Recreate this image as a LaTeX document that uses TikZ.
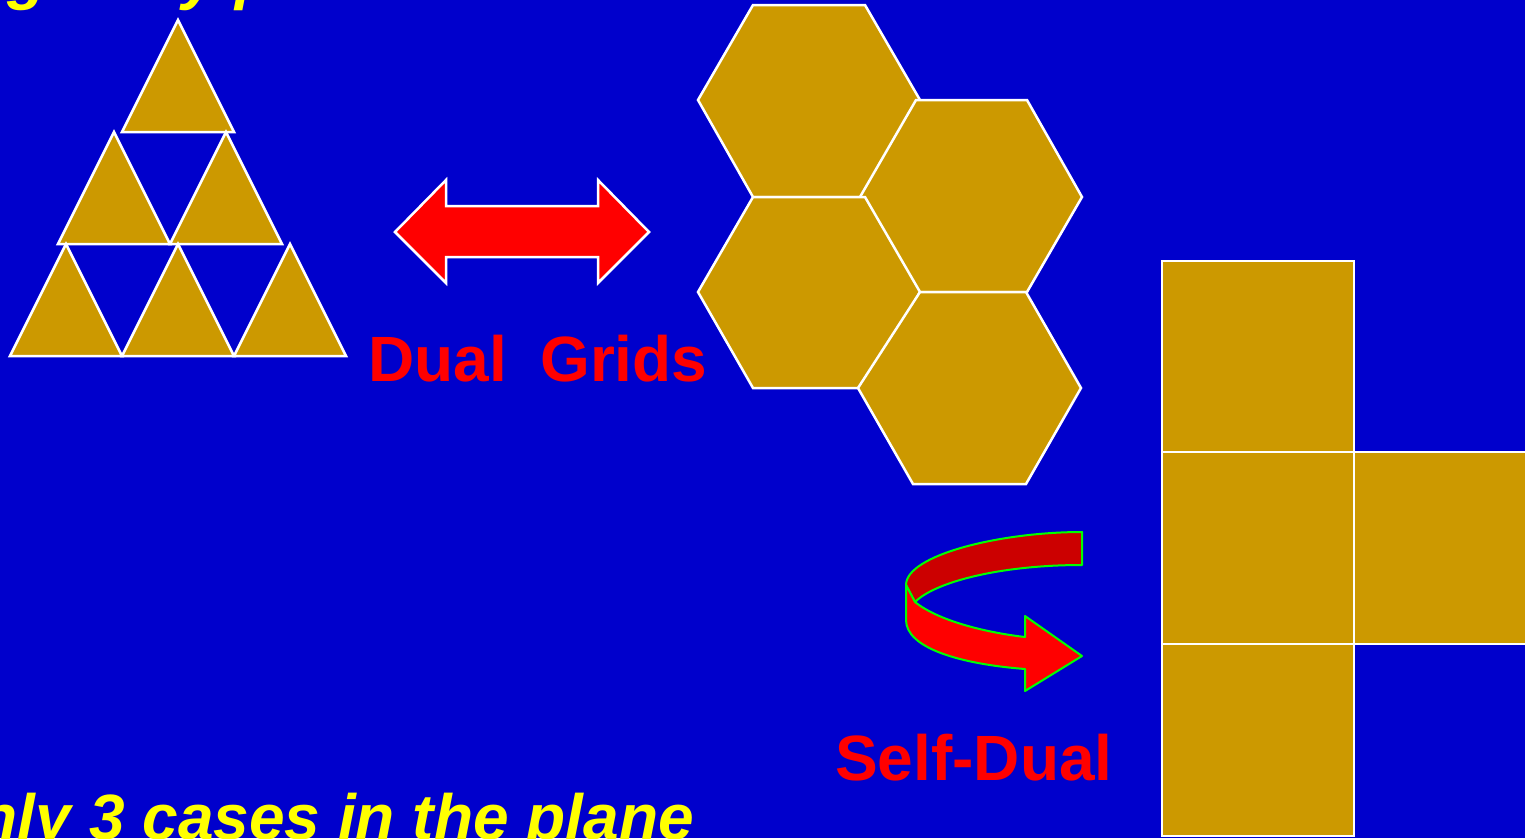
\documentclass[tikz,border=0pt]{standalone}
\usepackage{fontspec}
\setmainfont{Liberation Sans}
\definecolor{bgblue}{HTML}{0000CC}
\definecolor{tan}{HTML}{CC9900}
\definecolor{myred}{HTML}{FF0000}
\definecolor{darkred}{HTML}{CC0000}
\definecolor{myyellow}{HTML}{FFFF00}
\definecolor{mygreen}{HTML}{00FF00}
\tikzset{
  tile/.style={fill=tan, draw=white, line width=2.5pt, line join=miter},
  bigarrow/.style={fill=myred, draw=white, line width=2.5pt, line join=miter},
  ribbon/.style={draw=mygreen, line width=2pt, line join=round},
  redlabel/.style={text=myred, font=\fontsize{64}{70}\selectfont\bfseries, inner sep=0pt},
  yellowlabel/.style={text=myyellow, font=\fontsize{64}{70}\selectfont\bfseries\itshape, inner sep=0pt}
}
\begin{document}
\begin{tikzpicture}[x=1pt,y=-1pt]
\useasboundingbox (0,0) rectangle (1525,838);
\fill[bgblue] (0,0) rectangle (1525,838);
\clip (0,0) rectangle (1525,838);

% titles (cut off at the edges, as in the reference)
\node[yellowlabel, anchor=base west] (title) at (-74,-3) {Regularly placed tiles};
\node[yellowlabel, anchor=base east] (bottom) at (694,839) {Only 3 cases in the plane};

% triangles
\draw[tile] (122,132) -- (178,20) -- (234,132) -- cycle;
\draw[tile] (58,244) -- (114,132) -- (170,244) -- cycle;
\draw[tile] (170,244) -- (226,132) -- (282,244) -- cycle;
\draw[tile] (10,356) -- (66,244) -- (122,356) -- cycle;
\draw[tile] (122,356) -- (178,244) -- (234,356) -- cycle;
\draw[tile] (234,356) -- (290,244) -- (346,356) -- cycle;

% double arrow
\draw[bigarrow] (395,232) -- (446,180) -- (446,206) -- (598,206) -- (598,180) -- (649,232)
  -- (598,283) -- (598,257) -- (446,257) -- (446,283) -- cycle;

\node[redlabel, anchor=base west] (dual) at (368,381) {Dual};
\node[redlabel, anchor=base west] (grids) at (540,381) {Grids};

% hexagons
\draw[tile] (753,5) -- (865,5) -- (920,100) -- (865,197) -- (753,197) -- (698,100) -- cycle;
\draw[tile] (916,100) -- (1027,100) -- (1082,197) -- (1027,292) -- (916,292) -- (860,197) -- cycle;
\draw[tile] (753,197) -- (865,197) -- (920,292) -- (865,388) -- (753,388) -- (698,292) -- cycle;
\draw[tile] (920,292) -- (1026,292) -- (1081,388) -- (1026,484) -- (913,484) -- (858,388) -- cycle;

% squares
\draw[tile] (1162,261) rectangle (1354,452);
\draw[tile] (1162,452) rectangle (1354,644);
\draw[tile] (1354,452) rectangle (1546,644);
\draw[tile] (1162,644) rectangle (1354,836);

% curved 3D arrow
\draw[ribbon, fill=darkred] (1082,532) -- (1082,565)
  .. controls (1000,565) and (935,582) .. (915,602)
  -- (906,585)
  .. controls (906,555) and (1000,532) .. (1082,532) -- cycle;
\draw[ribbon, fill=myred] (906,585) -- (915,602)
  .. controls (940,622) and (990,633) .. (1025,637)
  -- (1025,616) -- (1082,656) -- (1025,691) -- (1025,669)
  .. controls (960,664) and (906,648) .. (906,620) -- cycle;

\node[redlabel, anchor=base west] (selfdual) at (835,780) {Self-Dual};
\end{tikzpicture}
\end{document}
